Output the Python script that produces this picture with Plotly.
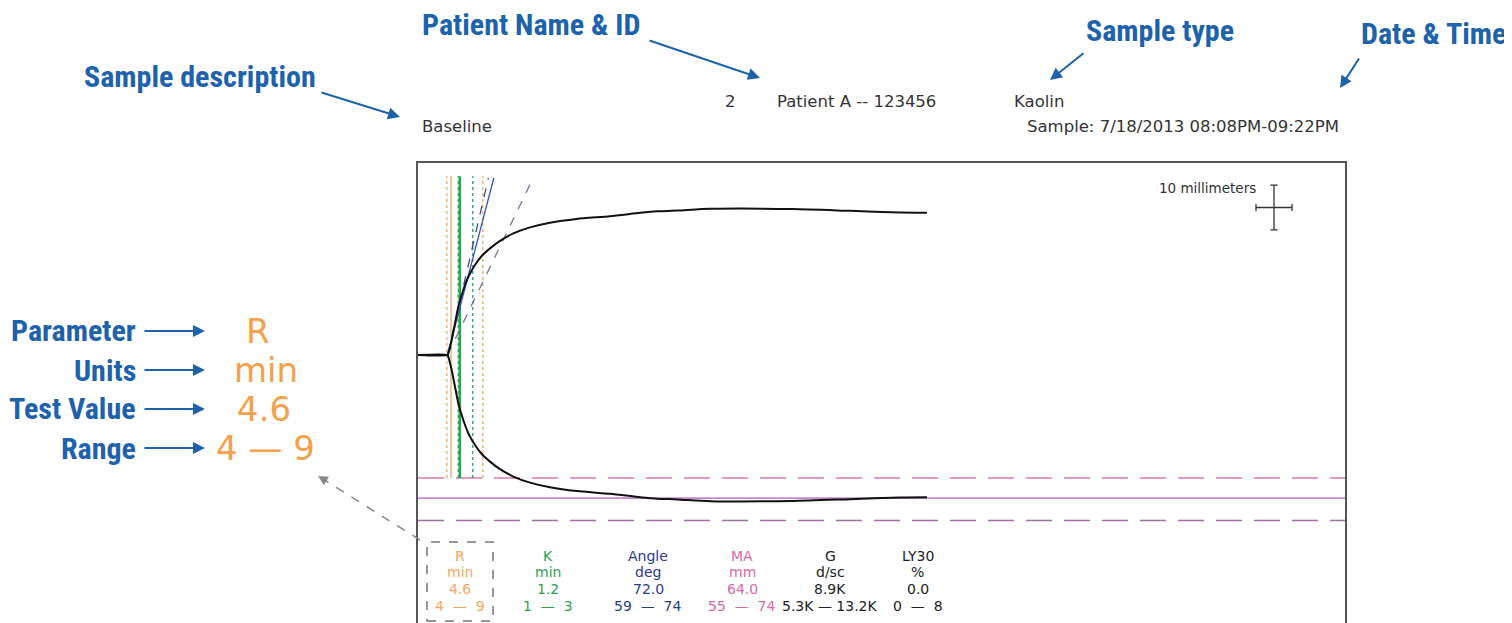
import math
import plotly.graph_objects as go

# page offset (default body margin of the html page)
OFF = 8
W, H = 1512 - OFF, 623 - OFF

# ---------------- data ----------------
teg_time_min = [0, 4.1, 4.21, 4.68, 5.14, 5.60, 6.29, 6.99, 7.92, 8.85, 10.0, 11.39, 13.24,
                15.56, 18.33, 22.04, 26.67, 30.83, 33.19, 35.97, 40.56, 52.08, 60.0, 66.94, 70.69]
teg_amp_mm = [0, 0, 0.8, 6.7, 14.2, 21.6, 29.1, 35.0, 40.3, 44.3, 47.7, 51.1, 54.4,
              57.1, 59.2, 60.9, 62.1, 63.6, 64.3, 64.6, 65.4, 65.3, 64.5, 63.8, 63.7]

R_value = 4.6
R_range = [4, 9]
K_value = 1.2
K_range = [1, 3]
angle_value = 72.0
angle_range = [59, 74]
MA_value = 64.0
MA_range = [55, 74]
angle_origin_min = 4.1
chart_speed_mm_per_min = 2.0
scale_bar_mm = 10

SP = "\u00a0"
DASH = SP + " \u2014 " + SP
param_names = ["R", "K", "Angle", "MA", "G", "LY30"]
param_units = ["min", "min", "deg", "mm", "d/sc", "%"]
param_values = ["4.6", "1.2", "72.0", "64.0", "8.9K", "0.0"]
param_ranges = ["4" + DASH + "9", "1" + DASH + "3", "59" + DASH + "74", "55" + DASH + "74",
                "5.3K \u2014 13.2K", "0" + DASH + "8"]
param_colors = ["#f2a85c", "#2e9e55", "#2b3b8c", "#d66aa6", "#222222", "#222222"]

header_number = "2"
header_patient = "Patient A -- 123456"
header_type = "Kaolin"
header_desc = "Baseline"
header_date = "Sample: 7/18/2013 08:08PM-09:22PM"

legend_labels = ["Parameter", "Units", "Test Value", "Range"]
legend_examples = ["R", "min", "4.6", "4 \u2014 9"]
top_labels = ["Patient Name & ID", "Sample type", "Date & Time", "Sample description"]

# ---------------- geometry helpers (reference pixel coords) ----------------
BOX_L, BOX_R, BOX_T = 418, 1345, 163
CENTER_Y = 355
PX_PER_MIN = 7.2
PX_PER_MM = 4.47

def px(x):
    return (x - OFF) / W

def py(y):
    return 1 - (y - OFF) / H

x_max = (BOX_R - BOX_L) / PX_PER_MIN
y_top = (CENTER_Y - BOX_T) / PX_PER_MM
y_bot = (CENTER_Y - 623) / PX_PER_MM

fig = go.Figure()

def seg(xs, ys, color, width=1.5, dash="solid"):
    fig.add_trace(go.Scatter(x=xs, y=ys, mode="lines",
                             line=dict(color=color, width=width, dash=dash),
                             hoverinfo="skip", showlegend=False))

# MA horizontal lines (lower side)
seg([0, x_max], [-MA_range[0] / 2] * 2, "#d878b8", 1.5, "26px,12px")
seg([0, x_max], [-MA_range[1] / 2] * 2, "#a070a0", 1.5, "26px,12px")
seg([0, x_max], [-MA_value / 2] * 2, "#c488cc", 1.8)

# vertical markers
v_bot, v_top = -MA_range[0] / 2, 40.0
for t in R_range:
    seg([t, t], [v_bot, v_top], "#f0b272", 1.5, "dot")
seg([R_value] * 2, [v_bot, v_top], "#e3c9a6", 2)
for k in K_range:
    seg([R_value + k] * 2, [v_bot, v_top], "#3aa58a", 1.5, "dot")
seg([R_value + K_value] * 2, [v_bot, v_top], "#1faa4a", 2.5)

# angle lines
line_top = 39.6
for a, col, dash in [(angle_range[0], "#6f7a96", "dash"), (angle_range[1], "#3d4f8a", "dash"),
                     (angle_value, "#3056c8", "solid")]:
    slope = chart_speed_mm_per_min * math.tan(math.radians(a))
    seg([angle_origin_min, angle_origin_min + line_top / slope], [0, line_top], col, 1.3, dash)

# TEG trace (upper and lower)
fig.add_trace(go.Scatter(x=teg_time_min, y=[a / 2 for a in teg_amp_mm], mode="lines",
                         line=dict(color="#111111", width=2, shape="spline", smoothing=0.6),
                         hoverinfo="skip", showlegend=False))
fig.add_trace(go.Scatter(x=teg_time_min, y=[-a / 2 for a in teg_amp_mm], mode="lines",
                         line=dict(color="#111111", width=2, shape="spline", smoothing=0.6),
                         hoverinfo="skip", showlegend=False))

# scale bar cross
cx = (1274 - BOX_L) / PX_PER_MIN
cy = 33.0
hw = scale_bar_mm / 2 / chart_speed_mm_per_min
hh = scale_bar_mm / 2
tk_t, tk_m = 0.5, 0.8
xs = [cx, cx, None, cx - hw, cx + hw, None,
      cx - tk_t, cx + tk_t, None, cx - tk_t, cx + tk_t, None,
      cx - hw, cx - hw, None, cx + hw, cx + hw]
ys = [cy - hh, cy + hh, None, cy, cy, None,
      cy + hh, cy + hh, None, cy - hh, cy - hh, None,
      cy - tk_m, cy + tk_m, None, cy - tk_m, cy + tk_m]
fig.add_trace(go.Scatter(x=xs, y=ys, mode="lines", line=dict(color="#333", width=1.3),
                         hoverinfo="skip", showlegend=False))

ann = []
hdr_font = dict(family="DejaVu Sans", size=16.5, color="#333333")
ann.append(dict(x=px(730), y=py(102), text=header_number, xanchor="center", font=hdr_font))
ann.append(dict(x=px(775), y=py(102), text=header_patient, xanchor="left", font=hdr_font))
ann.append(dict(x=px(1012), y=py(102), text=header_type, xanchor="left", font=hdr_font))
ann.append(dict(x=px(420), y=py(127), text=header_desc, xanchor="left", font=hdr_font))
ann.append(dict(x=px(1341), y=py(127), text=header_date, xanchor="right", font=hdr_font))
ann.append(dict(x=px(1258), y=py(188), text="10 millimeters", xanchor="right",
                font=dict(family="DejaVu Sans", size=13.5, color="#333333")))

# parameter table
col_x = [460, 548, 648, 742, 830, 918]
row_y = [556, 572, 589, 606]
for i in range(len(param_names)):
    for r, txt in enumerate([param_names[i], param_units[i], param_values[i], param_ranges[i]]):
        ann.append(dict(x=px(col_x[i]), y=py(row_y[r]), text=txt, xanchor="center",
                        font=dict(family="DejaVu Sans", size=14, color=param_colors[i])))

# blue callouts
blue = "#1d62ab"
bfont = dict(family="Liberation Sans Narrow, Roboto Condensed, Arial Narrow, sans-serif",
             size=30, color=blue)
leg_y = [331, 370, 409, 448]
leg_ex_x = [258, 266, 264, 265]
for lab, ex, yy, exx in zip(legend_labels, legend_examples, leg_y, leg_ex_x):
    ann.append(dict(x=px(138), y=py(yy), text="<b>%s</b>" % lab, xanchor="right", font=bfont))
    ann.append(dict(x=px(205), y=py(yy), ax=-62, ay=0, text="", showarrow=True,
                    arrowhead=2, arrowsize=1.2, arrowwidth=2, arrowcolor=blue))
    ann.append(dict(x=px(exx), y=py(yy), text=ex, xanchor="center",
                    font=dict(family="DejaVu Sans", size=34, color="#f5a04a")))

# top labels with arrows: (text center x, y, head x, head y, ax, ay)
top_pos = [(531, 25, 760, 78, -112, -38), (1160, 31, 1050, 80, 35, -28),
           (1433, 33, 1340, 88, 20, -31), (200, 76, 400, 117, -80, -25)]
for lab, (tx, ty, hx, hy, ax, ay) in zip(top_labels, top_pos):
    ann.append(dict(x=px(tx), y=py(ty), text="<b>%s</b>" % lab, xanchor="center", font=bfont,
                    borderpad=0))
    ann.append(dict(x=px(hx), y=py(hy), ax=ax, ay=ay, text="", showarrow=True,
                    arrowhead=2, arrowsize=1.2, arrowwidth=2, arrowcolor=blue))

# gray dashed arrow head
ann.append(dict(x=px(318), y=py(476), ax=10, ay=6, text="", showarrow=True,
                arrowhead=2, arrowsize=1.3, arrowwidth=1.5, arrowcolor="#888888"))
for a in ann:
    a.setdefault("showarrow", False)
    a.setdefault("xref", "paper")
    a.setdefault("yref", "paper")
    a.setdefault("yanchor", "middle")

shapes = [
    dict(type="rect", xref="paper", yref="paper", x0=px(427), x1=px(493), y0=py(621), y1=py(542),
         line=dict(color="#777777", width=1.5, dash="dash")),
    dict(type="line", xref="paper", yref="paper", x0=px(420), y0=py(540), x1=px(326), y1=py(481),
         line=dict(color="#888888", width=1.5, dash="dash")),
]

fig.update_layout(
    width=W, height=H, margin=dict(l=0, r=0, t=0, b=0),
    paper_bgcolor="white", plot_bgcolor="white",
    xaxis=dict(domain=[px(BOX_L), px(BOX_R)], range=[0, x_max], showgrid=False, zeroline=False,
               showticklabels=False, ticks="", showline=True, side="top",
               linecolor="#555555", linewidth=1.5),
    yaxis=dict(domain=[0, py(BOX_T)], range=[y_bot, y_top], showgrid=False, zeroline=False,
               showticklabels=False, ticks="", showline=True, mirror=True,
               linecolor="#555555", linewidth=1.5),
    annotations=ann, shapes=shapes,
)

fig.write_html("out.html")
